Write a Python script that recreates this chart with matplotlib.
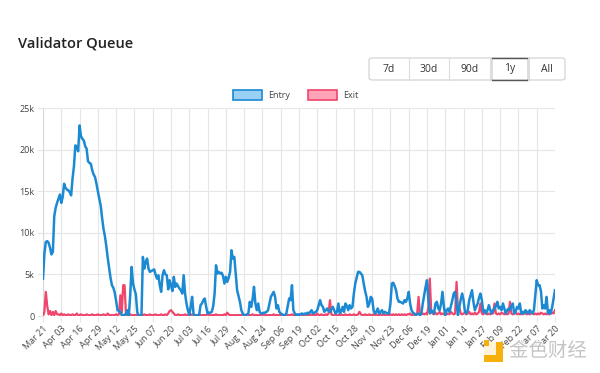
import matplotlib
matplotlib.use("Agg")
import matplotlib.pyplot as plt
from matplotlib.patches import FancyBboxPatch, Rectangle
import matplotlib.patheffects as pe
import numpy as np

# ---------------- data (thousands, daily from Mar 21) ----------------
tick_labels = ["Mar 21", "Apr 03", "Apr 16", "Apr 29", "May 12", "May 25", "Jun 07",
               "Jun 20", "Jul 03", "Jul 16", "Jul 29", "Aug 11", "Aug 24", "Sep 06",
               "Sep 19", "Oct 02", "Oct 15", "Oct 28", "Nov 10", "Nov 23", "Dec 06",
               "Dec 19", "Jan 01", "Jan 14", "Jan 27", "Feb 09", "Feb 22", "Mar 07",
               "Mar 20"]
tick_step_days = 13

entry_k = [
    4.5, 7.5, 8.9, 9.0, 8.8, 8.2, 7.4, 7.7, 12.0, 13.0,
    13.6, 14.1, 14.6, 13.6, 14.3, 15.9, 15.4, 15.2, 15.1, 14.9,
    14.5, 16.5, 18.0, 20.5, 20.4, 19.8, 22.9, 21.6, 21.3, 21.1,
    20.4, 20.1, 18.6, 18.4, 18.3, 17.5, 17.0, 16.7, 15.9, 15.0,
    14.1, 13.3, 11.8, 10.5, 9.6, 8.4, 7.0, 5.8, 4.6, 3.7,
    3.4, 2.8, 1.8, 0.7, 0.6, 0.5, 0.1, 0.1, 0.1, 0.3,
    0.7, 0.0, 2.5, 5.9, 3.9, 3.2, 2.6, 0.5, 0.0, 0.0,
    0.0, 7.1, 5.7, 6.5, 6.9, 5.7, 5.3, 5.4, 5.5, 5.6,
    5.0, 4.5, 4.9, 3.7, 2.9, 4.9, 5.5, 5.0, 4.9, 3.2,
    4.3, 3.7, 3.0, 4.7, 3.5, 3.9, 3.6, 3.3, 3.1, 2.7,
    4.9, 2.7, 1.5, 0.7, 0.1, 1.1, 2.3, 0.3, 0.0, 0.0,
    0.1, 0.1, 1.3, 1.5, 1.9, 2.1, 1.1, 0.3, 0.4, 0.4,
    0.5, 1.2, 2.7, 6.1, 5.1, 5.3, 5.1, 5.2, 4.8, 3.9,
    4.7, 4.1, 4.6, 5.3, 7.9, 6.9, 7.1, 5.1, 3.1, 2.4,
    1.7, 0.7, 0.3, 0.1, 0.1, 0.2, 0.3, 1.7, 1.1, 2.0,
    3.5, 1.5, 0.7, 1.5, 0.5, 0.3, 0.3, 0.4, 0.4, 0.5,
    0.7, 1.5, 2.3, 2.6, 2.9, 2.3, 0.9, 1.3, 0.5, 0.3,
    0.2, 0.1, 0.1, 0.3, 1.2, 2.1, 1.9, 3.7, 0.7, 0.3,
    0.1, 0.2, 0.1, 0.2, 0.3, 0.2, 0.3, 0.2, 0.4, 0.3,
    0.5, 0.7, 0.3, 0.4, 0.5, 0.7, 1.3, 1.9, 1.3, 1.1,
    0.5, 0.7, 0.9, 0.6, 0.5, 0.8, 1.1, 0.7, 0.3, 0.5,
    1.5, 0.3, 0.6, 1.1, 0.5, 1.5, 1.2, 0.7, 1.3, 0.9,
    1.1, 2.7, 3.9, 4.6, 5.3, 5.3, 5.1, 4.9, 3.9, 3.0,
    2.3, 1.1, 1.5, 2.3, 2.1, 0.7, 0.3, 0.5, 0.9, 0.3,
    0.5, 0.7, 0.3, 0.5, 0.4, 0.3, 0.3, 1.5, 3.9, 4.0,
    3.6, 3.1, 2.1, 1.7, 1.7, 1.6, 1.5, 1.9, 1.7, 2.1,
    2.9, 1.5, 0.7, 0.4, 0.3, 0.1, 0.2, 0.3, 0.1, 0.3,
    1.5, 2.5, 3.5, 4.3, 1.9, 0.3, 0.7, 0.5, 0.3, 1.5,
    1.7, 0.9, 0.7, 1.5, 2.9, 1.1, 0.1, 0.7, 0.9, 0.5,
    1.2, 1.9, 2.7, 2.9, 1.5, 0.1, 1.1, 2.0, 2.7, 1.9,
    0.5, 0.3, 0.7, 1.9, 2.5, 3.1, 1.7, 0.7, 1.1, 1.5,
    2.2, 2.7, 1.9, 0.5, 0.7, 0.3, 0.7, 1.3, 0.7, 0.3,
    0.7, 0.9, 1.2, 1.7, 0.9, 1.1, 0.7, 1.5, 0.9, 0.3,
    0.7, 0.9, 0.7, 1.2, 1.5, 0.3, 0.5, 1.1, 0.9, 1.5,
    0.3, 0.5, 0.3, 0.7, 0.5, 0.3, 0.7, 0.5, 0.3, 0.7,
    2.5, 4.3, 3.7, 3.7, 3.0, 0.9, 1.3, 0.9, 2.3, 0.3,
    0.7, 0.3, 1.1, 2.1, 3.1,
]

exit_k = [
    0.0, 0.5, 2.9, 1.2, 0.2, 0.6, 0.1, 0.5, 0.1, 0.6,
    0.2, 0.2, 0.1, 0.3, 0.1, 0.2, 0.1, 0.1, 0.2, 0.1,
    0.1, 0.2, 0.1, 0.1, 0.3, 0.1, 0.1, 0.2, 0.1, 0.1,
    0.1, 0.2, 0.1, 0.1, 0.1, 0.2, 0.1, 0.1, 0.1, 0.2,
    0.1, 0.1, 0.1, 0.2, 0.1, 0.1, 0.3, 0.1, 0.1, 0.1,
    0.1, 0.1, 0.2, 0.1, 0.2, 2.5, 0.4, 3.7, 3.7, 0.1,
    0.1, 0.1, 0.2, 0.1, 0.1, 0.1, 0.1, 0.2, 0.1, 0.1,
    0.1, 0.1, 0.2, 0.1, 0.1, 0.1, 0.2, 0.1, 0.1, 0.1,
    0.2, 0.1, 0.1, 0.1, 0.2, 0.1, 0.1, 0.2, 0.1, 0.3,
    0.6, 0.7, 0.5, 0.3, 0.1, 0.1, 0.2, 0.1, 0.1, 0.1,
    0.1, 0.2, 0.1, 0.1, 0.1, 0.1, 0.2, 0.1, 0.1, 0.1,
    0.1, 0.2, 0.1, 0.1, 0.1, 0.1, 0.1, 0.2, 0.1, 0.1,
    0.1, 0.1, 0.1, 0.2, 0.1, 0.1, 0.1, 0.1, 0.1, 0.2,
    0.1, 0.4, 0.2, 0.1, 0.1, 0.1, 0.1, 0.1, 0.1, 0.1,
    0.1, 0.1, 0.2, 0.1, 0.1, 0.1, 0.1, 0.1, 0.1, 0.2,
    0.1, 0.1, 0.1, 0.1, 0.1, 0.1, 0.2, 0.1, 0.1, 0.1,
    0.1, 0.1, 0.1, 0.1, 0.2, 0.1, 0.1, 0.1, 0.1, 0.1,
    0.2, 0.1, 0.1, 0.1, 0.1, 0.1, 0.1, 0.2, 0.1, 0.1,
    0.1, 0.1, 0.2, 0.1, 0.1, 0.1, 0.1, 0.2, 0.1, 0.1,
    0.1, 0.2, 0.1, 0.1, 0.1, 0.3, 0.1, 0.1, 0.2, 0.1,
    0.1, 0.2, 0.1, 0.3, 1.9, 0.2, 0.1, 0.1, 0.2, 0.1,
    0.1, 0.1, 0.2, 0.1, 0.1, 0.2, 0.1, 0.1, 0.2, 0.1,
    0.1, 0.2, 0.1, 0.1, 0.2, 0.5, 0.2, 0.1, 0.1, 0.2,
    0.1, 0.1, 0.2, 0.1, 0.1, 0.2, 0.1, 0.2, 0.1, 0.1,
    0.2, 0.1, 0.2, 0.1, 0.1, 0.2, 0.1, 0.2, 0.1, 0.2,
    0.1, 0.2, 0.1, 0.2, 0.1, 0.2, 0.1, 0.2, 0.1, 0.2,
    0.2, 0.3, 0.1, 0.2, 0.1, 0.2, 0.3, 2.3, 0.2, 0.2,
    0.3, 0.2, 0.3, 0.2, 1.0, 4.5, 0.5, 0.3, 0.2, 0.4,
    0.2, 0.3, 0.5, 0.2, 0.3, 0.2, 0.4, 0.2, 0.3, 0.2,
    0.5, 0.3, 0.2, 0.3, 4.1, 0.8, 1.0, 0.3, 0.2, 0.3,
    0.4, 0.2, 0.3, 0.5, 0.2, 0.3, 0.2, 0.4, 0.2, 0.3,
    0.5, 1.5, 0.3, 0.2, 0.4, 0.3, 0.2, 0.3, 0.2, 0.4,
    0.3, 1.5, 0.3, 0.2, 0.3, 0.2, 0.4, 0.3, 0.2, 0.3,
    0.2, 0.3, 1.7, 0.3, 0.2, 0.3, 0.4, 0.2, 0.3, 0.2,
    0.3, 0.2, 0.4, 0.3, 0.2, 0.3, 0.2, 0.3, 0.4, 0.2,
    0.3, 0.2, 0.3, 0.2, 0.4, 0.3, 0.2, 0.3, 0.2, 0.3,
    0.2, 0.3, 0.4, 0.3, 0.7,
]

y_ticks_k = [0, 5, 10, 15, 20, 25]
y_tick_labels = ["0", "5k", "10k", "15k", "20k", "25k"]
buttons = ["7d", "30d", "90d", "1y", "All"]
selected_button = "1y"
watermark = "金色财经"

ENTRY_LINE = "#1b8ad3"
ENTRY_FILL = "#9ad0f5"
EXIT_LINE = "#f0456c"
EXIT_FILL = "#ffa3b6"

W, H = 600, 373
fig = plt.figure(figsize=(W / 100, H / 100), dpi=100)
plt.rcParams['font.family'] = ['Open Sans', 'DejaVu Sans']


def fx(px):
    return px / W


def fy(py):
    return 1 - py / H


ax = fig.add_axes([fx(43), fy(316), fx(555) - fx(43), fy(108) - fy(316)])

days = np.arange(len(entry_k))
entry = np.array(entry_k) * 1000
exits = np.array(exit_k) * 1000

ax.plot(days, exits, color=EXIT_LINE, lw=1.6, zorder=3, solid_joinstyle='round')
ax.plot(days, entry, color=ENTRY_LINE, lw=1.8, zorder=4, solid_joinstyle='round')

ax.set_xlim(0, tick_step_days * (len(tick_labels) - 1))
ax.set_ylim(0, 25000)
ax.set_yticks([v * 1000 for v in y_ticks_k])
ax.set_yticklabels(y_tick_labels)
ax.set_xticks(np.arange(len(tick_labels)) * tick_step_days)
ax.set_xticklabels(tick_labels, rotation=45, ha='right', rotation_mode='anchor')

for s in ax.spines.values():
    s.set_visible(False)
ax.grid(True, color="#e6e6e6", lw=0.8)
ax.set_axisbelow(True)
ax.tick_params(axis='both', length=4, color="#e6e6e6", labelsize=6.5,
               labelcolor="#444444", pad=2)
ax.axvline(0, color="#d8d8d8", lw=0.8, zorder=1)

# title
fig.text(fx(18), fy(44), "Validator Queue", fontsize=10.5, fontweight='semibold',
         color="#222222", va='center', ha='left')

# buttons
bx = [369, 409, 449, 491, 528, 565]
by0, by1 = 58, 80
outer = FancyBboxPatch((fx(bx[0]), fy(by1)), fx(bx[-1]) - fx(bx[0]), fy(by0) - fy(by1),
                       boxstyle="round,pad=0,rounding_size=0.006",
                       transform=fig.transFigure, facecolor="white",
                       edgecolor="#cfcfcf", lw=0.8)
fig.patches.append(outer)
for i, lab in enumerate(buttons):
    if i > 0:
        fig.add_artist(plt.Line2D([fx(bx[i]), fx(bx[i])], [fy(by0), fy(by1)],
                                  transform=fig.transFigure, color="#dddddd", lw=0.8))
    if lab == selected_button:
        fig.patches.append(Rectangle((fx(bx[i]), fy(by1)), fx(bx[i + 1]) - fx(bx[i]),
                                     fy(by0) - fy(by1), transform=fig.transFigure,
                                     facecolor="none", edgecolor="#555555", lw=1.0))
    fig.text(fx((bx[i] + bx[i + 1]) / 2), fy((by0 + by1) / 2), lab, fontsize=7.5,
             color="#333333", ha='center', va='center')

# legend
for x0, lab, fc, ec in [(233, "Entry", ENTRY_FILL, ENTRY_LINE), (308, "Exit", EXIT_FILL, EXIT_LINE)]:
    fig.patches.append(Rectangle((fx(x0), fy(100)), fx(x0 + 29) - fx(x0), fy(90) - fy(100),
                                 transform=fig.transFigure, facecolor=fc, edgecolor=ec, lw=1.2))
    fig.text(fx(x0 + 35), fy(95), lab, fontsize=6.5, color="#444444", ha='left', va='center')

# watermark (logo + text)
fig.patches.append(Rectangle((fx(484), fy(362)), fx(503) - fx(484), fy(342) - fy(362),
                             transform=fig.transFigure, facecolor="#f5b00c", edgecolor="none"))
fig.patches.append(Rectangle((fx(484), fy(355)), fx(496) - fx(484), fy(342) - fy(355),
                             transform=fig.transFigure, facecolor="white", edgecolor="none",
                             alpha=0.85))
fig.patches.append(Rectangle((fx(484), fy(346)), fx(489) - fx(484), fy(340) - fy(346),
                             transform=fig.transFigure, facecolor="#f5b00c", edgecolor="none"))
fig.text(fx(509), fy(351), watermark, fontsize=14, color="#c4c4c4", ha='left', va='center',
         family=['Noto Sans CJK SC', 'DejaVu Sans'],
         path_effects=[pe.withStroke(linewidth=1.5, foreground="white")])

fig.savefig("out.png", dpi=100, facecolor="white")
